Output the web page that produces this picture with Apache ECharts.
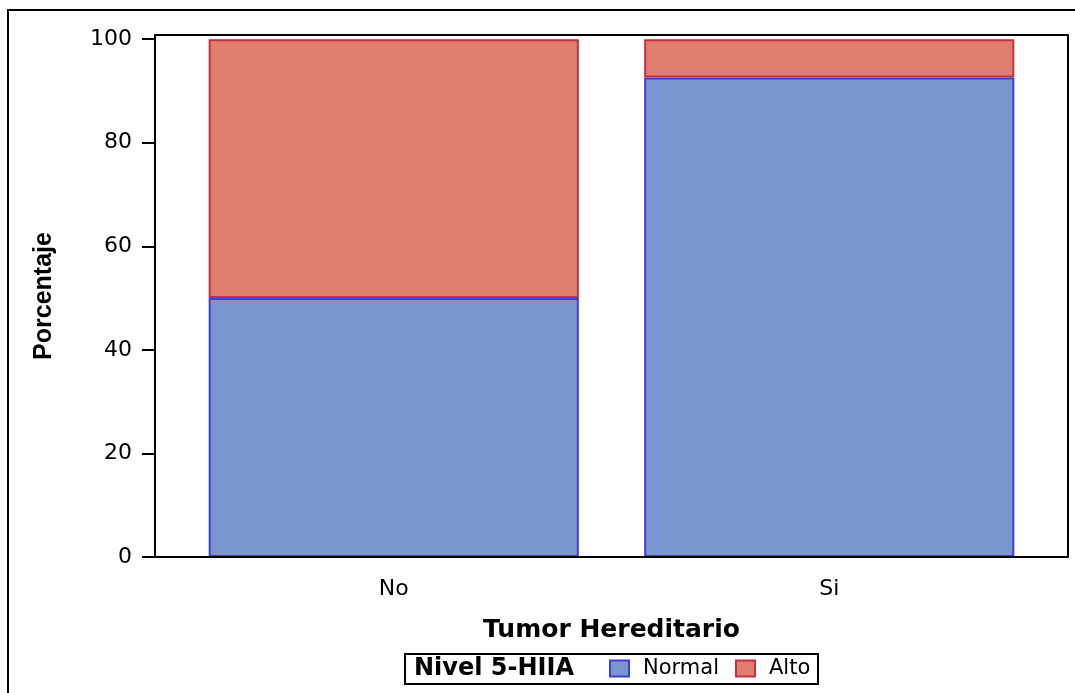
<!DOCTYPE html>
<html>
<head>
<meta charset="utf-8">
<script src="https://cdn.jsdelivr.net/npm/echarts@6/dist/echarts.min.js"></script>
<style>
  html, body { margin: 0; padding: 0; background: #fff; }
  #chart { width: 1075px; height: 693px; }
</style>
</head>
<body>
<div id="chart"></div>
<script>
// datos
const categories = ['No', 'Si']
const normalValues = [50, 92.6]
const altoValues = [50, 7.4]
const yTicks = [0, 20, 40, 60, 80, 100]

const chart = echarts.init(document.getElementById('chart'))
const wide = '"DejaVu Sans", Verdana, sans-serif'
const narrow = '"Liberation Sans", Arial, sans-serif'

const option = {
  animation: false,
  grid: { left: 176, right: 28, top: 35, bottom: 136 },
  graphic: [
    // marco exterior
    { type: 'rect', shape: { x: 8, y: 10, width: 1100, height: 720 }, style: { fill: 'none', stroke: '#000', lineWidth: 2 }, z: 0 },
    // marco del área de trazado
    { type: 'rect', shape: { x: 155, y: 35, width: 913, height: 522 }, style: { fill: 'none', stroke: '#000', lineWidth: 2 }, z: 10 },
    // leyenda
    { type: 'rect', shape: { x: 405, y: 654, width: 413, height: 30 }, style: { fill: '#fff', stroke: '#000', lineWidth: 2 }, z: 5 },
    { type: 'text', x: 414, y: 669, style: { text: 'Nivel 5-HIIA', font: 'bold 24px ' + wide, fill: '#000', textVerticalAlign: 'middle' }, z: 6 }
  ],
  legend: {
    left: 609, top: 658, padding: 0,
    icon: 'rect',
    itemWidth: 19, itemHeight: 16, itemGap: 16,
    itemStyle: { borderWidth: 2 },
    textStyle: { fontFamily: wide, fontSize: 21, color: '#000', padding: [0, 0, 0, 9] },
    data: ['Normal', 'Alto'],
    z: 7
  },
  xAxis: {
    type: 'category',
    data: categories,
    name: 'Tumor Hereditario',
    nameLocation: 'middle',
    nameGap: 61,
    nameTextStyle: { fontFamily: wide, fontSize: 25, fontWeight: 'bold', color: '#000' },
    axisLine: { show: false },
    axisTick: { alignWithLabel: true, length: 10, lineStyle: { color: '#000', width: 2 } },
    axisLabel: { fontFamily: wide, fontSize: 22, color: '#000', margin: 21 }
  },
  yAxis: {
    type: 'value',
    min: 0, max: 100.8,
    offset: 21,
    name: 'Porcentaje',
    nameLocation: 'middle',
    nameGap: 98,
    nameTextStyle: { fontFamily: narrow, fontSize: 25, fontWeight: 'bold', color: '#000' },
    splitLine: { show: false },
    axisLine: { show: true, lineStyle: { color: '#000', width: 2 } },
    axisTick: { show: true, length: 13, customValues: yTicks, lineStyle: { color: '#000', width: 2 } },
    axisLabel: { fontFamily: wide, fontSize: 22, color: '#000', margin: 23, customValues: yTicks }
  },
  series: [
    {
      name: 'Normal', type: 'bar', stack: 'total', barCategoryGap: '15%',
      data: normalValues,
      itemStyle: { color: '#7B96CE', borderColor: '#3D3EDC', borderWidth: 2 }
    },
    {
      name: 'Alto', type: 'bar', stack: 'total', barCategoryGap: '15%',
      data: altoValues,
      itemStyle: { color: '#E07E6E', borderColor: '#C23140', borderWidth: 2 }
    }
  ]
}

chart.setOption(option)
</script>
</body>
</html>
